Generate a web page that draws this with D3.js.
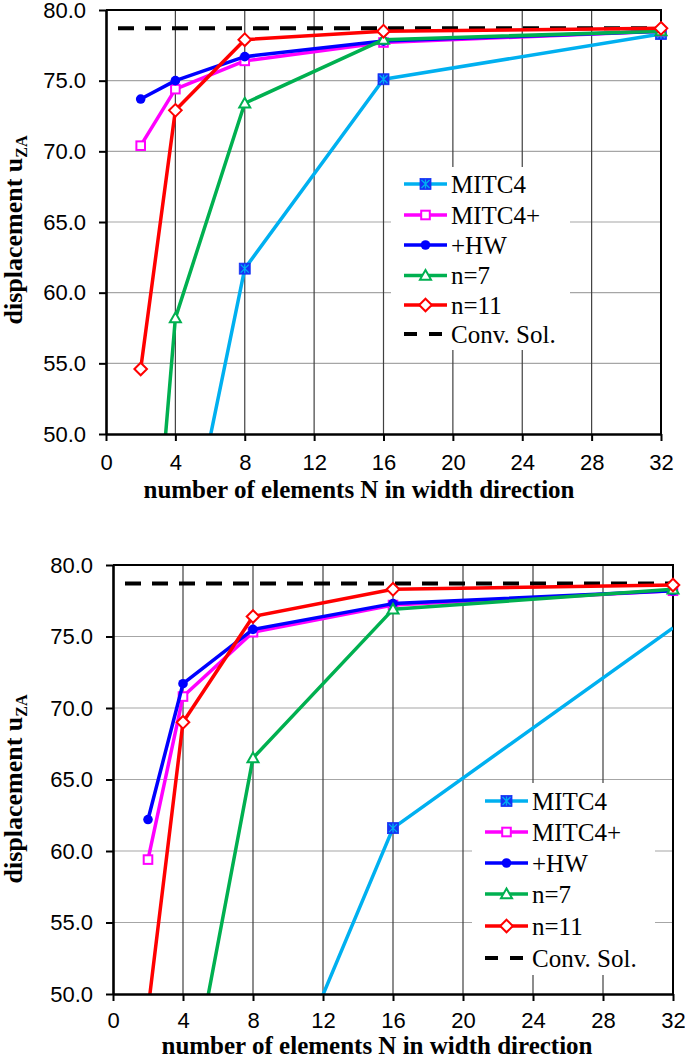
<!DOCTYPE html>
<html>
<head>
<meta charset="utf-8">
<script src="https://cdn.jsdelivr.net/npm/d3@7"></script>
<style>
  html, body { margin: 0; padding: 0; background: #fff; }
  svg { display: block; }
</style>
</head>
<body>
<svg id="chart" width="685" height="1059"></svg>
<script>
// ---------- DATA ----------
const N = [2, 4, 8, 16, 32];
const xTicks = [0, 4, 8, 12, 16, 20, 24, 28, 32];
const yTicks = [50, 55, 60, 65, 70, 75, 80];
const seriesNames = ["MITC4", "MITC4+", "+HW", "n=7", "n=11"];
const convLabel = "Conv. Sol.";

// top panel
const topMITC4     = [null, 37.8, 61.7, 75.1, 78.3];
const topMITC4plus = [70.4, 74.4, 76.4, 77.7, 78.5];
const topHW        = [73.7, 75.0, 76.7, 77.8, 78.5];
const topN7        = [29.0, 58.2, 73.4, 77.9, 78.5];
const topN11       = [54.6, 72.9, 77.9, 78.5, 78.7];
const topConv      = 78.7;

// bottom panel
const botMITC4     = [null, null, 38.3, 61.6, 75.6];
const botMITC4Mark = [false, false, true, true, false];
const botMITC4plus = [59.4, 70.8, 75.3, 77.2, 78.2];
const botHW        = [62.2, 71.7, 75.5, 77.3, 78.2];
const botN7        = [null, 40.6, 66.5, 76.9, 78.3];
const botN11       = [48.9, 69.0, 76.4, 78.3, 78.6];
const botConv      = 78.7;

// ---------- STYLE ----------
const colors = ["#00B0F0", "#FF00FF", "#0000FF", "#00B050", "#FF0000"];
const markers = ["xsquare", "square", "circle", "triangle", "diamond"];
const sansFont = "'Liberation Sans', Arial, sans-serif";
const serifFont = "'Liberation Serif', 'Times New Roman', serif";

const svg = d3.select("#chart");

function drawMarker(g, type, x, y, color) {
  if (type === "xsquare") {
    const s = 5.5;
    g.append("rect").attr("x", x - s).attr("y", y - s).attr("width", 2 * s).attr("height", 2 * s)
      .attr("fill", "#1432F5").attr("stroke", "#1432F5").attr("stroke-width", 0.8);
    g.append("path").attr("d", `M${x - s + 1.5},${y - s + 1.5}L${x + s - 1.5},${y + s - 1.5}M${x + s - 1.5},${y - s + 1.5}L${x - s + 1.5},${y + s - 1.5}M${x},${y - s + 1}L${x},${y + s - 1}`)
      .attr("stroke", "#00B0F0").attr("stroke-width", 1.3).attr("fill", "none");
  } else if (type === "square") {
    const s = 4.3;
    g.append("rect").attr("x", x - s).attr("y", y - s).attr("width", 2 * s).attr("height", 2 * s)
      .attr("fill", "#fff").attr("stroke", color).attr("stroke-width", 2);
  } else if (type === "circle") {
    g.append("circle").attr("cx", x).attr("cy", y).attr("r", 4.8).attr("fill", color);
  } else if (type === "triangle") {
    const s = 5.5;
    g.append("path").attr("d", `M${x},${y - s}L${x + s},${y + s * 0.75}L${x - s},${y + s * 0.75}Z`)
      .attr("fill", "#fff").attr("stroke", color).attr("stroke-width", 2);
  } else if (type === "diamond") {
    const s = 6.3;
    g.append("path").attr("d", `M${x},${y - s}L${x + s},${y}L${x},${y + s}L${x - s},${y}Z`)
      .attr("fill", "#fff").attr("stroke", color).attr("stroke-width", 2);
  }
}

function drawPanel(cfg, idx) {
  const x = d3.scaleLinear().domain([0, 32]).range([cfg.left, cfg.right]);
  const y = d3.scaleLinear().domain([50, 80]).range([cfg.bottom, cfg.top]);
  const g = svg.append("g");

  // gridlines
  g.append("g").selectAll("line").data(yTicks.slice(1, -1)).join("line")
    .attr("x1", cfg.left).attr("x2", cfg.right)
    .attr("y1", d => y(d)).attr("y2", d => y(d))
    .attr("stroke", "#a6a6a6").attr("stroke-width", 1.2);
  g.append("g").selectAll("line").data(xTicks.slice(1, -1)).join("line")
    .attr("x1", d => x(d)).attr("x2", d => x(d))
    .attr("y1", cfg.top).attr("y2", cfg.bottom)
    .attr("stroke", "#404040").attr("stroke-width", 1.2);

  // legend background (hides gridlines)
  const L = cfg.legend;
  g.append("rect").attr("x", L.x0).attr("y", L.y0).attr("width", L.x1 - L.x0).attr("height", L.y1 - L.y0)
    .attr("fill", "#fff");

  // frame top/right
  g.append("path").attr("d", `M${cfg.left},${cfg.top}H${cfg.right}V${cfg.bottom}`)
    .attr("fill", "none").attr("stroke", "#000").attr("stroke-width", 2);

  // clip
  const clipId = "clip" + idx;
  svg.append("clipPath").attr("id", clipId).append("rect")
    .attr("x", cfg.left).attr("y", cfg.top).attr("width", cfg.right - cfg.left).attr("height", cfg.bottom - cfg.top);

  // conv line
  g.append("line").attr("clip-path", `url(#${clipId})`)
    .attr("x1", x(0)).attr("x2", x(32)).attr("y1", y(cfg.conv)).attr("y2", y(cfg.conv))
    .attr("stroke", "#000").attr("stroke-width", 4).attr("stroke-dasharray", "16,11")
    .attr("stroke-dashoffset", -12);

  // series
  cfg.series.forEach((vals, si) => {
    const pts = N.map((n, i) => ({ n, v: vals[i], i }));
    const line = d3.line().defined(d => d.v !== null).x(d => x(d.n)).y(d => y(d.v));
    g.append("path").datum(pts).attr("clip-path", `url(#${clipId})`)
      .attr("d", line).attr("fill", "none").attr("stroke", colors[si])
      .attr("stroke-width", 3.5).attr("stroke-linejoin", "round");
    const mg = g.append("g");
    pts.forEach(d => {
      if (d.v === null || d.v < 50 || d.v > 80) return;
      if (cfg.markShown && cfg.markShown[si] && !cfg.markShown[si][d.i]) return;
      drawMarker(mg, markers[si], x(d.n), y(d.v), colors[si]);
    });
  });

  // axes
  const xa = g.append("g").attr("transform", `translate(0,${cfg.bottom})`)
    .call(d3.axisBottom(x).tickValues(xTicks).tickFormat(d3.format("d")).tickSize(7).tickSizeOuter(0).tickPadding(cfg.xPad));
  const ya = g.append("g").attr("transform", `translate(${cfg.left},0)`)
    .call(d3.axisLeft(y).tickValues(yTicks).tickFormat(d3.format(".1f")).tickSize(7).tickSizeOuter(0).tickPadding(13));
  [xa, ya].forEach(a => {
    a.select(".domain").attr("stroke", "#000").attr("stroke-width", 2.6);
    a.selectAll(".tick line").attr("stroke", "#000").attr("stroke-width", 2);
    a.selectAll("text").attr("font-family", sansFont).attr("font-size", 22).attr("fill", "#000");
  });

  // axis titles
  g.append("text").attr("x", cfg.xTitleX).attr("y", cfg.xTitleY)
    .attr("text-anchor", "middle").attr("font-family", serifFont).attr("font-weight", "bold")
    .attr("font-size", 25).text("number of elements N in width direction");
  const yt = g.append("text").attr("transform", `translate(${cfg.yTitleX},${cfg.yTitleY}) rotate(-90)`)
    .attr("text-anchor", "middle").attr("font-family", serifFont).attr("font-weight", "bold")
    .attr("font-size", 26);
  yt.append("tspan").text("displacement u");
  yt.append("tspan").attr("font-size", 16).attr("dy", 5).text("ZA");

  // legend entries
  const rows = seriesNames.concat([convLabel]);
  rows.forEach((name, i) => {
    const ry = L.rows[i];
    if (i < 5) {
      g.append("line").attr("x1", L.sx0).attr("x2", L.sx1).attr("y1", ry).attr("y2", ry)
        .attr("stroke", colors[i]).attr("stroke-width", 3.5);
      drawMarker(g, markers[i], (L.sx0 + L.sx1) / 2, ry, colors[i]);
    } else {
      g.append("line").attr("x1", L.sx0).attr("x2", L.sx1).attr("y1", ry).attr("y2", ry)
        .attr("stroke", "#000").attr("stroke-width", 4).attr("stroke-dasharray", "13,12");
    }
    g.append("text").attr("x", L.tx).attr("y", ry).attr("dy", "0.35em")
      .attr("font-family", serifFont).attr("font-size", 25).attr("fill", "#000").text(name);
  });
}

drawPanel({
  left: 106, right: 661, top: 10, bottom: 434, xPad: 13,
  conv: topConv,
  series: [topMITC4, topMITC4plus, topHW, topN7, topN11],
  legend: { x0: 391, x1: 570, y0: 167, y1: 350, sx0: 404, sx1: 447, tx: 451,
            rows: [184, 215, 245, 275.5, 305, 334] },
  xTitleX: 359, xTitleY: 498, yTitleX: 22, yTitleY: 230
}, 0);

drawPanel({
  left: 113, right: 673, top: 565, bottom: 994, xPad: 11,
  conv: botConv,
  series: [botMITC4, botMITC4plus, botHW, botN7, botN11],
  markShown: [botMITC4Mark, null, null, null, null],
  legend: { x0: 472, x1: 655, y0: 783, y1: 975, sx0: 485, sx1: 528, tx: 532,
            rows: [801, 832, 863, 894, 926, 958] },
  xTitleX: 377, xTitleY: 1054, yTitleX: 22, yTitleY: 789
}, 1);
</script>
</body>
</html>
